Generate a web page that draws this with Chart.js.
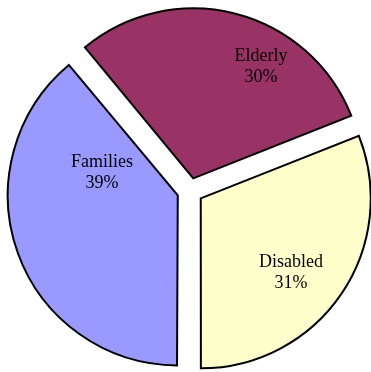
<!DOCTYPE html>
<html>
<head>
<meta charset="utf-8">
<script src="https://cdn.jsdelivr.net/npm/chart.js@4.4.1/dist/chart.umd.min.js"></script>
<style>
    html, body { margin: 0; padding: 0; background: #ffffff; }
    #wrap { width: 371px; height: 372px; position: relative; }
</style>
</head>
<body>
<div id="wrap"><canvas id="pieChart"></canvas></div>
<script>
const categories = ['Elderly', 'Disabled', 'Families'];
const shares = [30, 31, 39];
const sliceColors = ['#993366', '#ffffcc', '#9999ff'];

const EXPLODE = 52;   // arc element divides this by 4 -> ~13px

// label anchor relative to pie centre, in px
const labelOffsets = [[71, -126], [101, 80], [-88, -20]];

// Chart.js grows wide exploded slices (radius + offset*(1-sin(angle)));
// pull them back so every slice keeps the same radius
const evenRadius = {
    id: 'evenRadius',
    beforeDatasetsDraw(chart) {
        const meta = chart.getDatasetMeta(0);
        const base = meta.controller.outerRadius;
        meta.data.forEach(arc => {
            const fix = 1 - Math.sin(Math.min(Math.PI, arc.circumference));
            arc.outerRadius = base - (EXPLODE / 4) * fix;
        });
    }
};

// Draw category + percent labels inside each slice
const sliceLabels = {
    id: 'sliceLabels',
    afterDatasetsDraw(chart) {
        const ctx = chart.ctx;
        const arcs = chart.getDatasetMeta(0).data;
        ctx.save();
        ctx.fillStyle = '#000000';
        ctx.font = '18px "Liberation Serif", "Times New Roman", serif';
        ctx.textAlign = 'center';
        ctx.textBaseline = 'alphabetic';
        arcs.forEach((arc, i) => {
            const x = arc.x + labelOffsets[i][0];
            const y = arc.y + labelOffsets[i][1];
            ctx.fillText(categories[i], x, y - 4);
            ctx.fillText(shares[i] + '%', x, y + 17);
        });
        ctx.restore();
    }
};

new Chart(document.getElementById('pieChart').getContext('2d'), {
    type: 'pie',
    data: {
        labels: categories,
        datasets: [{
            data: shares,
            backgroundColor: sliceColors,
            borderColor: '#000000',
            borderWidth: 2,
            borderJoinStyle: 'miter',
            offset: EXPLODE
        }]
    },
    options: {
        responsive: true,
        maintainAspectRatio: false,
        animation: false,
        rotation: -39.6,
        radius: 170,
        layout: { padding: { left: 9, top: 10 } },
        plugins: {
            legend: { display: false },
            tooltip: { enabled: false }
        }
    },
    plugins: [evenRadius, sliceLabels]
});
</script>
</body>
</html>
